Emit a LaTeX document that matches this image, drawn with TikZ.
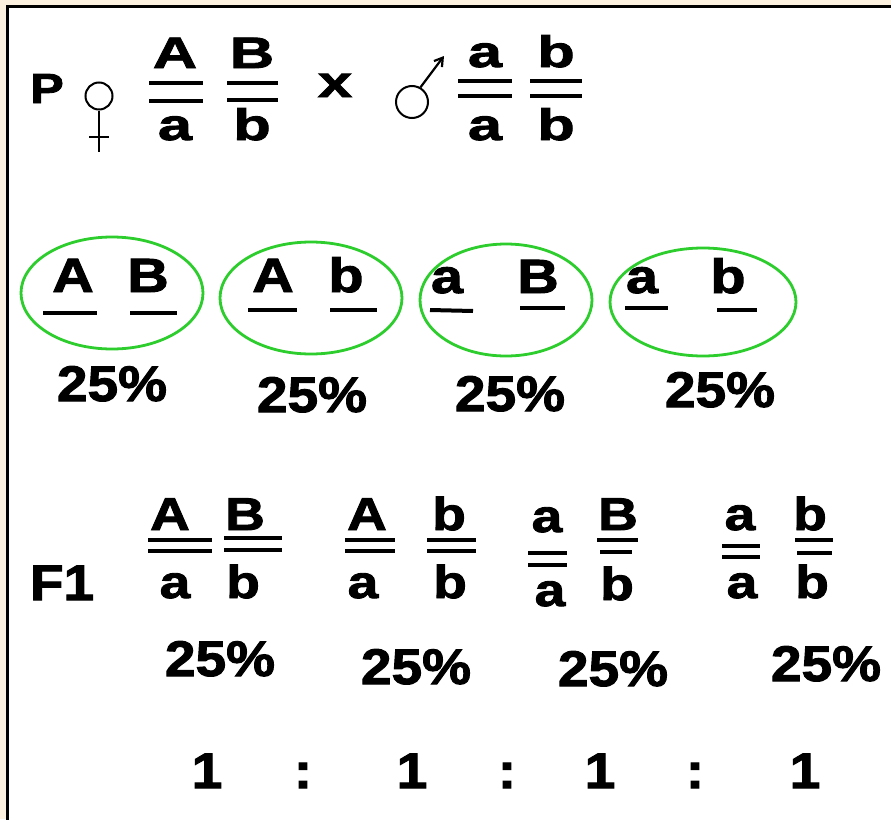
\documentclass[tikz,border=0pt]{standalone}
\usepackage{fontspec}
\setmainfont{Liberation Sans}
\newfontfamily\parentfont{Liberation Sans Bold}[FakeStretch=1.4, FakeBold=2]
\newfontfamily\genefont{Liberation Sans Bold}[FakeStretch=1.2, FakeBold=2]
\newfontfamily\pctfont{Liberation Sans Bold}[FakeStretch=1.1, FakeBold=2]
\usetikzlibrary{shapes.geometric, arrows.meta}
\definecolor{pagebeige}{RGB}{252,241,222}
\definecolor{gamgreen}{RGB}{45,205,45}

\begin{document}
\begin{tikzpicture}[x=1pt, y=-1pt,
    gene/.style={font=\parentfont\fontsize{44}{44}\selectfont, inner sep=0pt, anchor=base},
    big/.style={gene, font=\genefont\fontsize{48}{48}\selectfont},
    kid/.style={gene, font=\genefont\fontsize{46}{46}\selectfont},
    pct/.style={gene, font=\pctfont\fontsize{50}{50}\selectfont},
    bar/.style={line width=4pt},
    sym/.style={draw, circle, line width=2pt, inner sep=0pt},
    gamete/.style={draw=gamgreen, ellipse, line width=2.8pt, minimum width=182pt, minimum height=112pt}
  ]
  \clip (0,0) rectangle (891,819);
  \fill[pagebeige] (0,0) rectangle (891,819);
  \draw[line width=3pt, fill=white] (7.5,6.5) rectangle (900,830);

  % parents
  \node[gene, font=\genefont\fontsize{42}{42}\selectfont] (p) at (47,103) {P};
  \node[sym, minimum size=27pt] (fem) at (99,96) {};
  \coordinate (femend) at (99,152);
  \draw[line width=2pt] (fem.south) -- (femend);
  \draw[line width=2pt] (89,137) -- (109,137);
  \node[gene] (fa1) at (175,68) {A};
  \draw[bar] (149,83) -- (203,83); \draw[bar] (149,101) -- (203,101);
  \node[gene] (fa2) at (175,140) {a};
  \node[gene] (fb1) at (252,68) {B};
  \draw[bar] (227,83) -- (278,83); \draw[bar] (227,100) -- (278,100);
  \node[gene] (fb2) at (252,140) {b};
  \node[gene] (cross) at (335,97) {x};
  \node[sym, minimum size=32pt] (male) at (412,102) {};
  \coordinate (maletip) at (444,56);
  \draw[line width=2.2pt, -{Straight Barb[length=8pt, width=10pt]}] (male.60) -- (maletip);
  \node[gene] (ma1) at (485,67) {a};
  \draw[bar] (458,81) -- (512,81); \draw[bar] (458,96) -- (512,96);
  \node[gene] (ma2) at (485,140) {a};
  \node[gene] (mb1) at (556,67) {b};
  \draw[bar] (530,81) -- (582,81); \draw[bar] (530,96) -- (582,96);
  \node[gene] (mb2) at (556,140) {b};

  % gametes
  \node[gamete] (g1) at (112,293) {};
  \node[gamete] (g2) at (311,298) {};
  \node[gamete, minimum width=172pt] (g3) at (506,300) {};
  \node[gamete, minimum width=186pt, minimum height=108pt] (g4) at (703,302) {};
  \node[big] (g1a) at (73,292) {A};  \draw[bar] (43,313) -- (97,313);
  \node[big] (g1b) at (148,292) {B}; \draw[bar] (130,313) -- (177,313);
  \node[big] (g2a) at (273,292) {A}; \draw[bar] (248,310) -- (297,310);
  \node[big] (g2b) at (346,292) {b}; \draw[bar] (330,310) -- (377,310);
  \node[big] (g3a) at (447,293) {a}; \draw[bar] (430,310) -- (473,311);
  \node[big] (g3b) at (538,293) {B}; \draw[bar] (520,308) -- (565,308);
  \node[big] (g4a) at (642,293) {a}; \draw[bar] (625,308) -- (668,308);
  \node[big] (g4b) at (728,293) {b}; \draw[bar] (717,310) -- (757,310);
  \node[pct] (gp1) at (112,401) {25\%};
  \node[pct] (gp2) at (312,412) {25\%};
  \node[pct] (gp3) at (510,411) {25\%};
  \node[pct] (gp4) at (720,407) {25\%};

  % offspring
  \node[pct] (f1) at (62,600) {F1};
  \node[kid] (o1a) at (170,530) {A};
  \draw[bar] (148,540) -- (212,540); \draw[bar] (148,551) -- (212,551);
  \node[kid] (o1b) at (245,530) {B};
  \draw[bar] (224,538) -- (282,538); \draw[bar] (224,550) -- (282,550);
  \node[kid] (o1c) at (175,598) {a};
  \node[kid] (o1d) at (243,598) {b};
  \node[kid] (o2a) at (367,530) {A};
  \draw[bar] (345,540) -- (395,540); \draw[bar] (345,551) -- (395,551);
  \node[kid] (o2b) at (449,530) {b};
  \draw[bar] (427,540) -- (476,540); \draw[bar] (427,551) -- (476,551);
  \node[kid] (o2c) at (363,598) {a};
  \node[kid] (o2d) at (450,598) {b};
  \node[kid] (o3a) at (547,532) {a};
  \draw[bar] (528,553) -- (567,553); \draw[bar] (528,565) -- (567,565);
  \node[kid] (o3b) at (618,530) {B};
  \draw[bar] (597,540) -- (638,540); \draw[bar] (600,552) -- (632,552);
  \node[kid] (o3c) at (550,606) {a};
  \node[kid] (o3d) at (617,600) {b};
  \node[kid] (o4a) at (740,530) {a};
  \draw[bar] (722,546) -- (760,546); \draw[bar] (722,557) -- (760,557);
  \node[kid] (o4b) at (810,530) {b};
  \draw[bar] (795,540) -- (833,540); \draw[bar] (797,553) -- (832,553);
  \node[kid] (o4c) at (742,598) {a};
  \node[kid] (o4d) at (812,598) {b};
  \node[pct] (op1) at (220,676) {25\%};
  \node[pct] (op2) at (416,684) {25\%};
  \node[pct] (op3) at (613,686) {25\%};
  \node[pct] (op4) at (826,681) {25\%};

  % ratio
  \node[pct] (r1) at (207,788) {1};
  \node[pct] (c1) at (303,788) {:};
  \node[pct] (r2) at (412,788) {1};
  \node[pct] (c2) at (507,788) {:};
  \node[pct] (r3) at (600,788) {1};
  \node[pct] (c3) at (695,788) {:};
  \node[pct] (r4) at (805,788) {1};
\end{tikzpicture}
\end{document}
